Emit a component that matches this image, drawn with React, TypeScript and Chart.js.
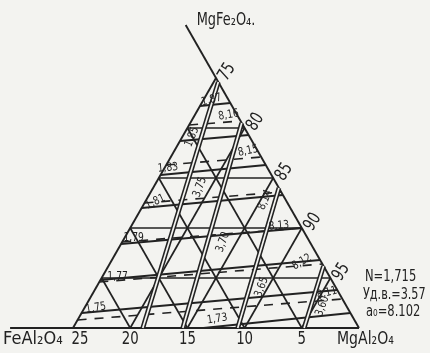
import { useEffect, useRef } from "react";
import { Chart, registerables } from "chart.js";

Chart.register(...registerables);

// Section FeAl2O4 – MgFe2O4 – MgAl2O4 (mol.%). Points are [FeAl2O4, MgFe2O4];
// MgAl2O4 is the remainder to 100.
const feAxisTicks = [25, 20, 15, 10, 5];
const mgAlAxisTicks = [75, 80, 85, 90, 95];
const gridLevels = [5, 10, 15, 20];

// refractive index N (solid isolines)
const nValues = [1.73, 1.75, 1.77, 1.79, 1.81, 1.83, 1.85, 1.87];
const nStart = [[13.6, 0], [23.5, 1.5], [20.2, 4.8], [16.6, 8.4], [13.0, 12.0], [9.7, 15.3], [6.3, 18.7], [2.8, 22.2]];
const nEnd = [[0, 1.5], [0, 3.8], [0, 6.8], [0, 10.0], [0, 13.3], [0, 16.3], [0, 19.3], [0, 22.5]];

// lattice constant a0 (dashed isolines)
const aValues = [8.11, 8.12, 8.13, 8.14, 8.15, 8.16];
const aStart = [[24.2, 0.8], [20.4, 4.6], [16.4, 8.6], [12.5, 12.5], [8.7, 16.3], [4.7, 20.3]];
const aEnd = [[0, 2.9], [0, 6.4], [0, 10.0], [0, 13.6], [0, 17.1], [0, 20.7]];

// specific gravity (double isolines)
const dValues = [3.6, 3.65, 3.7, 3.75];
const dStart = [[4.8, 0], [10.6, 0], [15.4, 0], [18.9, 0]];
const dEnd = [[0, 6.2], [0, 14.0], [0, 20.5], [0, 24.6]];

// label anchors in plot units, with rotation in degrees
const nLabelAt = [[12.6, 0.9, -8], [2.0, 2.0, -10], [3.9, 5.1, 0], [5.3, 9.0, 0], [7.2, 12.6, -25], [8.3, 16.0, -5], [10.4, 19.1, -68], [12.1, 22.8, -15]];
const aLabelAt = [[22.2, 3.5, -15], [20.0, 6.6, -30], [18.0, 10.2, -5], [16.8, 12.8, -68], [15.3, 17.7, -12], [13.6, 21.3, -10]];
const dLabelAt = [[21.8, 2.2, -70], [16.5, 4.1, -70], [13.1, 8.6, -70], [11.1, 14.1, -70]];

const ink = "#222222";
const paper = "#f3f3f0";
const face = '"DejaVu Sans", "Liberation Sans", sans-serif';

const toPlot = (fe: number, mf: number) => ({ x: 25 - fe - mf / 2, y: mf });
const comma = (v: number, d: number) => v.toFixed(d).replace(".", ",");

export default function App() {
  const ref = useRef<HTMLCanvasElement | null>(null);

  useEffect(() => {
    if (!ref.current) return;
    const datasets: any[] = [];
    const line = (a: number[], b: number[], width = 1.7, dash: number[] = [], color = ink, order = 2) =>
      datasets.push({
        data: [toPlot(a[0], a[1]), toPlot(b[0], b[1])],
        showLine: true,
        pointRadius: 0,
        borderColor: color,
        borderWidth: width,
        borderDash: dash,
        borderCapStyle: "butt",
        tension: 0,
        order,
      });

    // frame: extended base, left side, extended right side
    line([30.5, 0], [0, 0], 1.9);
    line([25, 0], [0, 25], 1.9);
    line([0, 0], [0, 30.3], 1.9);

    gridLevels.forEach((g) => {
      line([g, 0], [g, 25 - g]);
      line([g, 0], [0, g]);
      line([25 - g, g], [0, g]);
    });

    nValues.forEach((_, i) => line(nStart[i], nEnd[i], 1.8));
    aValues.forEach((_, i) => line(aStart[i], aEnd[i], 1.6, [9, 8]));
    // double stroke: wide ink line (drawn above the grid) with a paper-coloured core on top
    dValues.forEach((_, i) => line(dStart[i], dEnd[i], 4.8, [], ink, 1));
    dValues.forEach((_, i) => line(dStart[i], dEnd[i], 1.7, [], paper, 0));

    const labels = {
      id: "labels",
      beforeDraw(chart: any) {
        const c = chart.ctx;
        c.save();
        c.fillStyle = paper;
        c.fillRect(0, 0, chart.width, chart.height);
        c.restore();
      },
      afterDatasetsDraw(chart: any) {
        const c = chart.ctx;
        const sx = chart.scales.x;
        const sy = chart.scales.y;
        const px = (p: { x: number; y: number }) => [sx.getPixelForValue(p.x), sy.getPixelForValue(p.y)];
        const text = (t: string, x: number, y: number, size: number, rot = 0, align: CanvasTextAlign = "center", squeeze = 0.74) => {
          c.save();
          c.translate(x, y);
          c.rotate((rot * Math.PI) / 180);
          c.scale(squeeze, 1);
          c.font = `${size}px ${face}`;
          c.fillStyle = ink;
          c.textAlign = align;
          c.textBaseline = "middle";
          c.fillText(t, 0, 0);
          c.restore();
        };

        feAxisTicks.forEach((v) => {
          const [x, y] = px(toPlot(v, 0));
          text(String(v), x + (v === 25 ? 7 : 0), y + 11, 18);
        });
        mgAlAxisTicks.forEach((v) => {
          const [x, y] = px(toPlot(0, 100 - v));
          text(String(v), x + 11, y - 6, 18, -58);
        });

        const place = (arr: number[][], vals: number[]) =>
          vals.forEach((v, i) => {
            const [x, y] = px({ x: arr[i][0], y: arr[i][1] });
            text(comma(v, 2), x, y, 11.5, arr[i][2], "center", 0.8);
          });
        place(nLabelAt, nValues);
        place(aLabelAt, aValues);
        place(dLabelAt, dValues);

        const [lx, ly] = px(toPlot(25, 0));
        text("FeAl\u2082O\u2084", lx - 70, ly + 11, 18, 0, "left", 0.9);
        const [rx, ry] = px(toPlot(0, 0));
        text("MgAl\u2082O\u2084", rx - 22, ry + 11, 18, 0, "left", 0.78);
        const [tx, ty] = px(toPlot(0, 30.3));
        text("MgFe\u2082O\u2084.", tx + 11, ty - 4, 17, 0, "left", 0.76);

        text("N=1,715", 365, 277, 16, 0, "left", 0.72);
        text("\u0423\u0434.\u0432.=3.57", 363, 295, 16, 0, "left", 0.7);
        text("a\u2080=8.102", 366, 312, 16, 0, "left", 0.72);
      },
    };

    const chart = new Chart(ref.current, {
      type: "scatter",
      data: { datasets },
      options: {
        animation: false,
        responsive: false,
        events: [],
        layout: { padding: 0 },
        plugins: { legend: { display: false }, tooltip: { enabled: false } },
        scales: {
          x: { type: "linear", display: false, min: -6.381, max: 31.206 },
          y: { type: "linear", display: false, min: -2.5, max: 32.8 },
        },
      },
      plugins: [labels],
    });
    return () => chart.destroy();
  }, []);

  return (
    <div style={{ position: "absolute", left: 0, top: 0, width: 430, height: 353 }}>
      <canvas ref={ref} width={430} height={353} style={{ display: "block" }} />
    </div>
  );
}
